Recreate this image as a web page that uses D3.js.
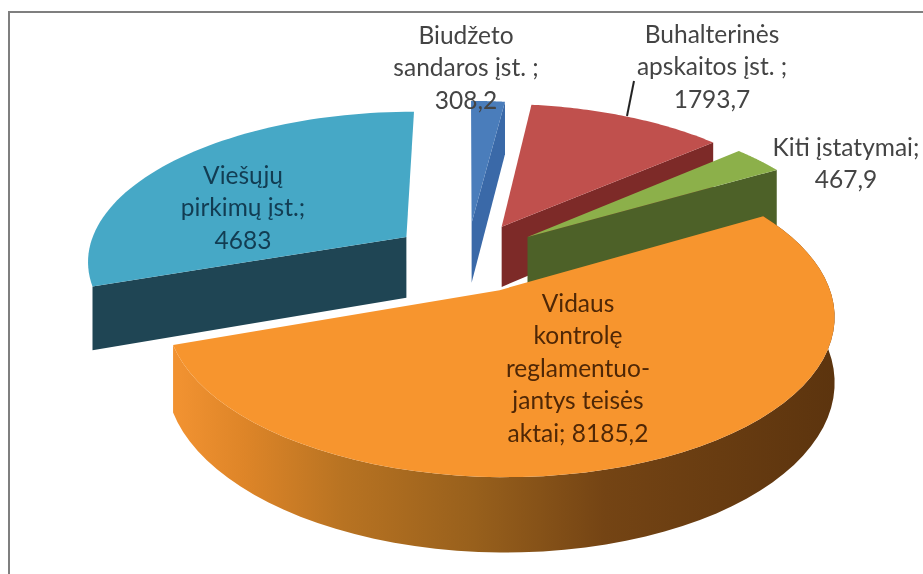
<!DOCTYPE html>
<html><head><meta charset="utf-8">
<script src="https://cdn.jsdelivr.net/npm/d3@7"></script>
<style>html,body{margin:0;padding:0;background:#fff}svg{display:block;filter:blur(0.55px)}</style>
</head><body><svg id="c" width="923" height="574"></svg>
<script>
const categories = ["Biudžeto sandaros įst.", "Buhalterinės apskaitos įst.", "Kiti įstatymai", "Vidaus kontrolę reglamentuojantys teisės aktai", "Viešųjų pirkimų įst."];
const values = [308.2, 1793.7, 467.9, 8185.2, 4683];
const labelLines = [
  ["Biudžeto", "sandaros įst. ;", "308,2"],
  ["Buhalterinės", "apskaitos įst. ;", "1793,7"],
  ["Kiti įstatymai;", "467,9"],
  ["Vidaus", "kontrolę", "reglamentuo-", "jantys teisės", "aktai; 8185,2"],
  ["Viešųjų", "pirkimų įst.;", "4683"]
];
const topColors = ["#4a7dbb", "#c0504d", "#8cb04a", "#f7952e", "#46a8c6"];
const sideColors = ["#3a69a8", "#7d2a28", "#4d6128", "url(#wall)", "#1f4554"];
const textColors = ["#444444", "#444444", "#444444", "#4f2706", "#123c52"];
const labelCenters = [[466, 35], [712, 34], [846, 147], [578, 303], [243, 175]];
const visibleFace = ["end", "end", "end", null, "start"];
const lineStep = 32.5;
const drawOrder = [0, 4, 1, 2, 3];

const svg = d3.select("#c");
const W = 923, H = 574;
const cx = 467, cy = 257, ax = 320, by = 149, k = 0.146, depth = 62, explode = 0.237;

const defs = svg.append("defs");
const grad = defs.append("linearGradient").attr("id", "wall").attr("gradientUnits", "userSpaceOnUse")
  .attr("x1", 178).attr("x2", 835).attr("y1", 0).attr("y2", 0);
[[0, "#f19231"], [0.1, "#de8528"], [0.25, "#b87322"], [0.45, "#98601c"], [0.65, "#744414"], [1, "#5c340e"]]
  .forEach(s => grad.append("stop").attr("offset", s[0]).attr("stop-color", s[1]));

// frame
svg.append("path").attr("d", `M9,${H}V12H${W}`).attr("fill", "none").attr("stroke", "#7f7f7f").attr("stroke-width", 2);

const arcs = d3.pie().sort(null).startAngle(0).endAngle(2 * Math.PI)(values);

function project(u, v, z) {
  const w = 1 - k * v;
  return [cx + ax * u / w, cy + by * v / w + z * depth / w];
}
const poly = d3.line().curve(d3.curveLinear);

drawOrder.forEach(i => {
  const a = arcs[i];
  const mid = (a.startAngle + a.endAngle) / 2;
  const ou = explode * Math.sin(mid), ov = -explode * Math.cos(mid);
  const rim = d3.range(0, 61).map(t => {
    const th = a.startAngle + (a.endAngle - a.startAngle) * t / 60;
    return [ou + Math.sin(th), ov - Math.cos(th)];
  });
  const apex = [ou, ov];
  const g = svg.append("g");
  const P = (p, z) => project(p[0], p[1], z);
  // the radial face that looks toward the viewer
  if (visibleFace[i]) {
    const e = visibleFace[i] === "end" ? rim[60] : rim[0];
    g.append("path").attr("fill", sideColors[i])
      .attr("d", poly([P(apex, 0), P(e, 0), P(e, 1), P(apex, 1)]) + "Z");
  } else {
    // outer wall of the front slice
    g.append("path").attr("fill", sideColors[i])
      .attr("d", poly(rim.map(p => P(p, 0)).concat(rim.slice().reverse().map(p => P(p, 1)))) + "Z");
  }
  // top face
  g.append("path").attr("fill", topColors[i])
    .attr("d", poly([P(apex, 0)].concat(rim.map(p => P(p, 0)))) + "Z");
});

// leader line
svg.append("line").attr("x1", 627).attr("y1", 116).attr("x2", 634).attr("y2", 81)
  .attr("stroke", "#222").attr("stroke-width", 2);

labelLines.forEach((lines, i) => {
  const t = svg.append("text").attr("text-anchor", "middle")
    .attr("font-family", "Lato, 'Open Sans', sans-serif").attr("font-size", 24.5).attr("fill", textColors[i]);
  lines.forEach((s, j) => t.append("tspan").attr("x", labelCenters[i][0])
    .attr("y", labelCenters[i][1] + j * lineStep).attr("dy", "0.35em").text(s));
});
</script></body></html>
